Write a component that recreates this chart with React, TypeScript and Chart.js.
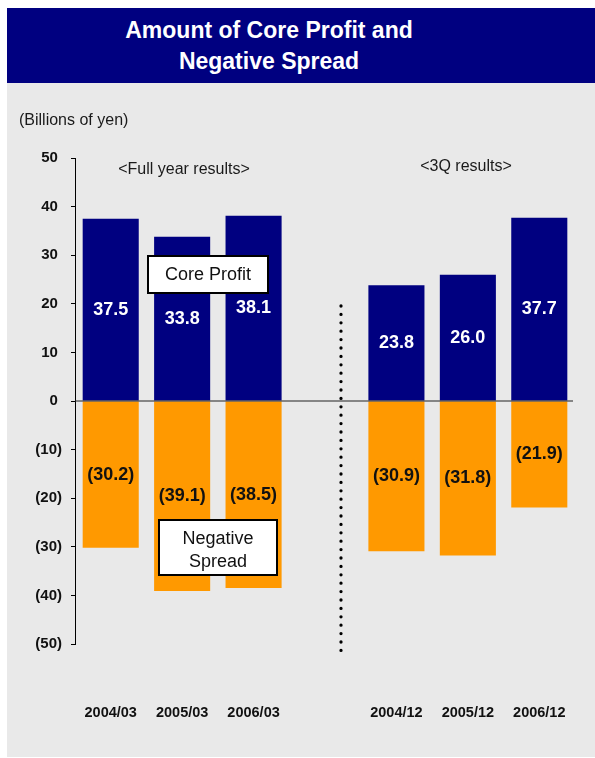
import React, { useEffect, useRef } from "react";
import { Chart, registerables } from "chart.js";

Chart.register(...registerables);

const categories = ["2004/03", "2005/03", "2006/03", "", "2004/12", "2005/12", "2006/12"];
const coreProfit = [37.5, 33.8, 38.1, null, 23.8, 26.0, 37.7];
const negativeSpread = [-30.2, -39.1, -38.5, null, -30.9, -31.8, -21.9];
const yMin = -50;
const yMax = 50;
const yStep = 10;

const FONT = '"Liberation Sans", Arial, sans-serif';

const extrasPlugin = {
  id: "extras",
  afterDatasetsDraw(chart: any) {
    const ctx = chart.ctx;
    const y = chart.scales.y;
    const area = chart.chartArea;
    ctx.save();
    // zero line
    const y0 = y.getPixelForValue(0);
    ctx.strokeStyle = "#222";
    ctx.lineWidth = 1.2;
    ctx.beginPath();
    ctx.moveTo(area.left, y0);
    ctx.lineTo(area.right - 2, y0);
    ctx.stroke();

    // value labels
    ctx.font = `bold 18px ${FONT}`;
    ctx.textAlign = "center";
    ctx.textBaseline = "middle";
    chart.data.datasets.forEach((ds: any, di: number) => {
      const meta = chart.getDatasetMeta(di);
      meta.data.forEach((bar: any, i: number) => {
        const v = ds.data[i];
        if (v === null || v === undefined) return;
        const cy = (bar.y + bar.base) / 2;
        ctx.fillStyle = v >= 0 ? "#ffffff" : "#111111";
        const txt = v >= 0 ? v.toFixed(1) : `(${Math.abs(v).toFixed(1)})`;
        ctx.fillText(txt, bar.x, cy);
      });
    });

    // dotted separator
    ctx.strokeStyle = "#000";
    ctx.lineWidth = 3.3;
    ctx.lineCap = "round";
    ctx.setLineDash([0, 8.4]);
    ctx.beginPath();
    ctx.moveTo(341, 306);
    ctx.lineTo(341, 653);
    ctx.stroke();
    ctx.setLineDash([]);
    ctx.lineCap = "butt";

    // header texts
    ctx.fillStyle = "#1a1a1a";
    ctx.font = `16px ${FONT}`;
    ctx.textAlign = "left";
    ctx.fillText("(Billions of yen)", 19, 121);
    ctx.textAlign = "center";
    ctx.fillText("<Full year results>", 184, 170);
    ctx.fillText("<3Q results>", 466, 167);

    // legend boxes
    const box = (x: number, yy: number, w: number, h: number, lines: string[], cy: number[]) => {
      ctx.fillStyle = "#ffffff";
      ctx.fillRect(x, yy, w, h);
      ctx.strokeStyle = "#000";
      ctx.lineWidth = 2;
      ctx.strokeRect(x + 1, yy + 1, w - 2, h - 2);
      ctx.fillStyle = "#111";
      ctx.font = `18px ${FONT}`;
      ctx.textAlign = "center";
      lines.forEach((t, k) => ctx.fillText(t, x + w / 2, cy[k]));
    };
    box(147, 255, 122, 39, ["Core Profit"], [275]);
    box(158, 519, 120, 57, ["Negative", "Spread"], [539, 562]);
    ctx.restore();
  },
};

export default function App() {
  const ref = useRef<HTMLCanvasElement>(null);
  useEffect(() => {
    if (!ref.current) return;
    const chart = new Chart(ref.current, {
      type: "bar",
      data: {
        labels: categories,
        datasets: [
          {
            label: "Core Profit",
            data: coreProfit as any,
            backgroundColor: "#000080",
            categoryPercentage: 1,
            barPercentage: 0.785,
          },
          {
            label: "Negative Spread",
            data: negativeSpread as any,
            backgroundColor: "#FF9900",
            categoryPercentage: 1,
            barPercentage: 0.785,
          },
        ],
      },
      options: {
        responsive: false,
        animation: false,
        devicePixelRatio: 1,
        layout: { padding: { left: 0, top: 158, right: 20, bottom: 0 } },
        plugins: { legend: { display: false }, tooltip: { enabled: false } },
        scales: {
          x: {
            stacked: true,
            grid: { display: false, drawTicks: false },
            border: { display: false },
            ticks: {
              color: "#111",
              font: { family: FONT, size: 14.5, weight: "bold" },
              padding: 60,
              maxRotation: 0,
              autoSkip: false,
            },
            afterFit: (s: any) => {
              s.height = 114;
              s.paddingLeft = 0;
              s.paddingRight = 0;
            },
          },
          y: {
            stacked: true,
            min: yMin,
            max: yMax,
            grid: { display: true, drawOnChartArea: false, drawTicks: true, tickLength: 4, color: "#000" },
            border: { display: true, color: "#000", width: 1 },
            ticks: {
              stepSize: yStep,
              color: "#111",
              padding: 9,
              font: { family: FONT, size: 15, weight: "bold" },
              callback: (v: any) => (v < 0 ? `(${-v})` : `${v} `),
            },
            afterFit: (s: any) => {
              s.width = 75;
              s.paddingTop = 0;
              s.paddingBottom = 0;
            },
          },
        },
      },
      plugins: [extrasPlugin],
    });
    return () => chart.destroy();
  }, []);

  return (
    <div style={{ position: "absolute", left: 0, top: 0, width: 595, height: 758, background: "#fff" }}>
      <div
        style={{
          position: "absolute",
          left: 7,
          top: 8,
          width: 588,
          height: 75,
          background: "#000080",
          color: "#fff",
          fontFamily: FONT,
          fontWeight: "bold",
          fontSize: 23,
          lineHeight: "31px",
          display: "flex",
          flexDirection: "column",
          justifyContent: "center",
          alignItems: "center",
          paddingRight: 64,
          boxSizing: "border-box",
          textAlign: "center",
        }}
      >
        <div>Amount of Core Profit and</div>
        <div>Negative Spread</div>
      </div>
      <div style={{ position: "absolute", left: 7, top: 83, width: 588, height: 674, background: "#e9e9e9" }} />
      <canvas ref={ref} width={595} height={758} style={{ position: "absolute", left: 0, top: 0, width: 595, height: 758 }} />
    </div>
  );
}
